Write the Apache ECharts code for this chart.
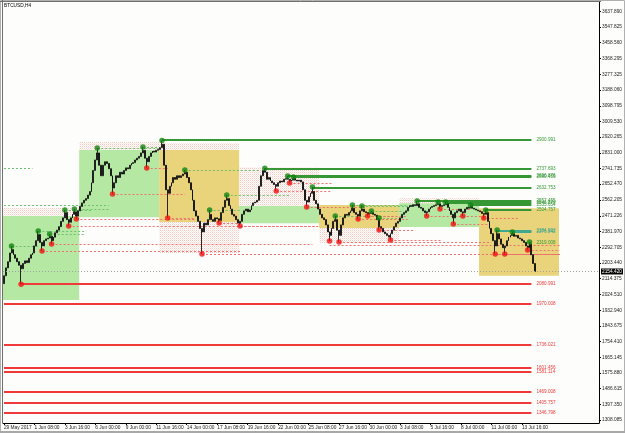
<!DOCTYPE html>
<html><head><meta charset="utf-8">
<script src="https://cdn.jsdelivr.net/npm/echarts@6/dist/echarts.min.js"></script>
<style>html,body{margin:0;padding:0;background:#fdfdfc}#c{width:625px;height:433px}</style>
</head><body><div id="c"></div>
<script>
// ---- data ----
const symbolTitle = 'BTCUSD,H4';
const firstOpen = 2085;
const closes = [
2130,2175,2210,2260,2280,2250,2230,2210,2190,2170,
2200,2215,2205,2230,2250,2260,2300,2330,2365,2320,
2300,2330,2340,2345,2355,2330,2350,2375,2390,2410,
2440,2460,2490,2450,2435,2460,2480,2495,2470,2500,
2525,2545,2560,2570,2590,2610,2660,2730,2790,2830,
2760,2700,2760,2780,2770,2740,2700,2630,2660,2700,
2690,2720,2710,2730,2745,2740,2760,2770,2775,2790,
2800,2810,2830,2845,2800,2780,2810,2830,2840,2835,
2845,2850,2860,2880,2760,2620,2600,2640,2660,2690,
2680,2700,2690,2700,2710,2720,2690,2660,2620,2560,
2500,2470,2440,2400,2380,2430,2420,2450,2480,2450,
2440,2460,2455,2445,2490,2520,2560,2570,2530,2510,
2480,2470,2450,2430,2440,2480,2500,2510,2495,2505,
2530,2545,2550,2560,2640,2700,2730,2720,2680,2690,
2670,2660,2650,2640,2660,2670,2665,2680,2685,2680,
2670,2675,2685,2675,2670,2675,2665,2620,2560,2550,
2580,2600,2610,2560,2540,2510,2480,2460,2450,2420,
2380,2360,2400,2440,2450,2390,2360,2420,2460,2480,
2475,2490,2500,2515,2490,2480,2470,2500,2510,2495,
2490,2480,2485,2490,2480,2475,2450,2410,2400,2380,
2370,2360,2350,2370,2390,2410,2430,2440,2460,2480,
2490,2500,2520,2530,2525,2535,2530,2540,2520,2515,
2500,2490,2495,2510,2520,2525,2530,2535,2540,2525,
2530,2535,2540,2520,2500,2480,2460,2490,2500,2510,
2495,2490,2510,2520,2515,2525,2515,2510,2505,2500,
2495,2485,2480,2490,2440,2400,2370,2330,2300,2370,
2340,2310,2290,2300,2330,2350,2360,2370,2355,2360,
2345,2340,2330,2320,2300,2290,2310,2250,2200,2154.42
];
const lastPrice = 2154.42;
const slotCount = 313;
const xTickEvery = 16;
const xTickLabels = ['29 May 2017','1 Jun 08:00','3 Jun 16:00','6 Jun 00:00','9 Jun 00:00','11 Jun 16:00','14 Jun 00:00','17 Jun 08:00','19 Jun 16:00','22 Jun 00:00','25 Jun 08:00','27 Jun 16:00','30 Jun 00:00','3 Jul 08:00','5 Jul 16:00','8 Jul 00:00','11 Jul 00:00','13 Jul 16:00'];
const yTickValues = [1308.085,1397.350,1486.615,1575.880,1665.145,1754.410,1843.675,1932.940,2024.510,2114.375,2203.440,2292.705,2381.970,2471.226,2562.205,2652.470,2741.735,2831.000,2920.265,3009.530,3098.795,3188.060,3277.325,3368.295,3458.560,3547.825,3637.890];
const yMin = 1290.75, yMax = 3690.4;

// fractal points [bar, price]
const greenDots = [[4,2300],[18,2385],[24,2368],[32,2505],[37,2510],[49,2858],[73,2864],[83,2901],[95,2733],[108,2505],[117,2590],[137,2743],[149,2699],[152,2693],[162,2636],[174,2471],[183,2533],[188,2528],[193,2499],[197,2459],[217,2556],[228,2550],[232,2550],[245,2533],[253,2505],[259,2391],[267,2379],[276,2323]];
const redDots = [[9,2081],[20,2271],[25,2311],[34,2414],[38,2454],[57,2596],[75,2744],[86,2459],[104,2254],[113,2431],[124,2414],[143,2613],[150,2659],[159,2522],[171,2328],[176,2322],[186,2454],[191,2471],[197,2391],[203,2334],[222,2471],[229,2511],[236,2425],[241,2471],[252,2459],[258,2254],[263,2254],[275,2277]];

// unbroken levels [startBar, price]
const levelEnd = 277;
const greenLevels = [[83,2900.991],[137,2737.693],[149,2696.876],[152,2690.456],[162,2632.753],[217,2557.455],[232,2546.870],[245,2535.654],[253,2504.757],[276,2319.008]];
const tealLevels = [[259,2384.992],[267,2376.842]];
const redLevels = [[9,2080.991],[0,1970.008],[0,1736.021],[0,1601.456],[0,1581.114],[0,1469.008],[0,1405.757],[0,1346.798]];

// broken levels [startBar, endBar, price]
const greenDashes = [[0,15,2744],[0,55,2533],[4,18,2300],[18,42,2385],[24,42,2368],[32,46,2505],[37,55,2510],[49,82,2858],[73,82,2864],[95,135,2733],[108,124,2505],[117,150,2590],[174,205,2471],[183,212,2533],[188,212,2528],[193,210,2499],[197,208,2459],[228,232,2550]];
const redDashes = [[20,124,2271],[25,162,2311],[34,165,2414],[38,100,2454],[57,95,2596],[75,86,2744],[86,100,2459],[104,292,2254],[113,125,2431],[124,165,2414],[143,172,2613],[150,172,2659],[159,190,2522],[171,292,2305],[176,256,2322],[186,212,2454],[191,212,2471],[197,215,2391],[203,230,2334],[222,245,2471],[229,245,2511],[236,255,2425],[241,255,2471],[252,270,2459],[258,292,2254],[263,292,2254],[275,292,2277]];

// weekly ranges [firstBar, lastBar, low, high]
const bullWeeks = [[0,39,1992,2471],[40,81,2464,2847],[124,165,2430,2527],[208,249,2408,2544]];
const bearWeeks = [[82,123,2436,2847],[166,207,2402,2533],[250,291,2130,2515]];
const weekWicks = [[0,39,2471,2517],[40,81,2847,2892],[82,123,2847,2887],[82,123,2260,2436],[124,165,2527,2748],[166,207,2317,2402],[208,249,2544,2572]];

// ---- build ----
const categories = Array.from({length: slotCount}, (_, i) => 'b' + i);
const gHigh = {}; greenDots.forEach(([i, p]) => gHigh[i] = p);
const rLow = {}; redDots.forEach(([i, p]) => rLow[i] = p);
const candles = closes.map((c, i) => {
  const o = i ? closes[i - 1] : firstOpen;
  let hi = Math.max(o, c), lo = Math.min(o, c);
  if (gHigh[i] != null) hi = Math.max(hi, gHigh[i]);
  if (rLow[i] != null) lo = Math.min(lo, rLow[i]);
  return [o, c, lo, hi];
});

const FONT = 'Liberation Sans';
const pc = document.createElement('canvas'); pc.width = 2; pc.height = 2;
const pg = pc.getContext('2d');
pg.fillStyle = 'rgba(240,150,135,0.5)'; pg.fillRect(0, 0, 1, 1);
pg.fillStyle = 'rgba(245,185,170,0.3)'; pg.fillRect(1, 1, 1, 1);
const wickFill = {image: pc, repeat: 'repeat'};

function boxSeries(rows, fill, z) {
  return {type: 'custom', silent: true, z, data: rows, encode: {x: [0, 1], y: [2, 3]},
    renderItem(params, api) {
      const w = api.size([1, 0])[0];
      const a = api.coord([api.value(0), api.value(3)]);
      const b = api.coord([api.value(1), api.value(2)]);
      return {type: 'rect', shape: {x: a[0] - w / 2, y: a[1], width: b[0] - a[0] + w, height: b[1] - a[1]}, style: {fill}};
    }};
}
function levelSeries(rows, color, width, dash, label, z) {
  return {type: 'custom', silent: true, z, data: rows, encode: {x: [0, 1], y: 2},
    renderItem(params, api) {
      const a = api.coord([api.value(0), api.value(2)]);
      const b = api.coord([api.value(1), api.value(2)]);
      const y = Math.round(a[1]) + (width % 2 ? 0.5 : 0);
      const kids = [{type: 'line', shape: {x1: a[0], y1: y, x2: b[0], y2: y}, style: {stroke: color, lineWidth: width, lineDash: dash}}];
      if (label) kids.push({type: 'text', x: b[0] + 5, y: y, style: {text: api.value(2).toFixed(3), fill: color, fontSize: 4.6, fontFamily: FONT, verticalAlign: 'middle', align: 'left'}});
      return {type: 'group', children: kids};
    }};
}
const solid = rows => rows.map(([s, p]) => [s, levelEnd, p]);

const chart = echarts.init(document.getElementById('c'), null, {renderer: 'canvas', devicePixelRatio: 1});
chart.setOption({
  animation: false,
  backgroundColor: '#fdfdfc',
  grid: {left: 3, right: 24, top: 2, bottom: 10, containLabel: false},
  xAxis: {type: 'category', data: categories, boundaryGap: true,
    axisLine: {show: true, lineStyle: {color: '#000', width: 1}},
    axisTick: {show: true, length: 2, alignWithLabel: true, interval: (i) => i % xTickEvery === 0 && i / xTickEvery < xTickLabels.length, lineStyle: {color: '#000'}},
    axisLabel: {interval: (i) => i % xTickEvery === 0 && i / xTickEvery < xTickLabels.length, formatter: (v, i) => xTickLabels[i / xTickEvery] || '', align: 'left', fontSize: 4.8, fontFamily: FONT, color: '#222', margin: 2},
    splitLine: {show: false}},
  yAxis: {type: 'value', position: 'right', min: yMin, max: yMax, scale: true,
    axisLine: {show: true, lineStyle: {color: '#000', width: 1}},
    axisTick: {show: true, length: 2, customValues: yTickValues, lineStyle: {color: '#000'}},
    axisLabel: {customValues: yTickValues, formatter: v => v.toFixed(3), fontSize: 4.8, fontFamily: FONT, color: '#222', margin: 3},
    splitLine: {show: false}},
  graphic: [
    {type: 'rect', shape: {x: 0.5, y: 0.5, width: 624, height: 432}, style: {fill: 'none', stroke: '#b0b0b0', lineWidth: 1}, z: 100},
    {type: 'line', shape: {x1: 2.5, y1: 0, x2: 2.5, y2: 423}, style: {stroke: '#707070', lineWidth: 1}, z: 100},
    {type: 'line', shape: {x1: 0, y1: 1.5, x2: 601, y2: 1.5}, style: {stroke: '#707070', lineWidth: 1}, z: 100},
    {type: 'rect', shape: {x: 0, y: 431, width: 625, height: 2}, style: {fill: '#a8a8a8'}, z: 100},
    {type: 'text', x: 4, y: 3.5, style: {text: symbolTitle, fontSize: 4.8, fontFamily: FONT, fill: '#000'}, z: 100}
  ],
  series: [
    boxSeries(weekWicks, wickFill, 1),
    boxSeries(bullWeeks, '#b5e8a2', 1),
    boxSeries(bearWeeks, '#e9d47c', 1),
    levelSeries(greenDashes, '#6cc06c', 1, [2, 2], false, 2),
    levelSeries(redDashes, '#f07070', 1, [2, 2], false, 2),
    levelSeries(solid(redLevels), '#f03a3a', 2, null, true, 3),
    levelSeries(solid(greenLevels), '#359835', 2, null, true, 3),
    levelSeries(solid(tealLevels), '#3fa88e', 2, null, true, 3),
    {type: 'candlestick', z: 4, data: candles, barWidth: 1.4,
      itemStyle: {color: '#8a8a8a', color0: '#111111', borderColor: '#111111', borderColor0: '#111111', borderWidth: 0.9},
      markLine: {silent: true, symbol: 'none', data: [{yAxis: lastPrice}],
        lineStyle: {color: '#a0a0a0', type: [1, 2], width: 1},
        label: {show: true, position: 'end', formatter: () => lastPrice.toFixed(3), backgroundColor: '#000', color: '#fff', fontSize: 4.8, fontFamily: FONT, padding: [1, 1, 0, 1], distance: 2}}},
    {type: 'scatter', z: 5, symbol: 'circle', symbolSize: 5.5, data: greenDots, itemStyle: {color: '#108410'}, silent: true},
    {type: 'scatter', z: 5, symbol: 'circle', symbolSize: 5.5, data: redDots, itemStyle: {color: '#f01414'}, silent: true}
  ]
});
</script></body></html>
